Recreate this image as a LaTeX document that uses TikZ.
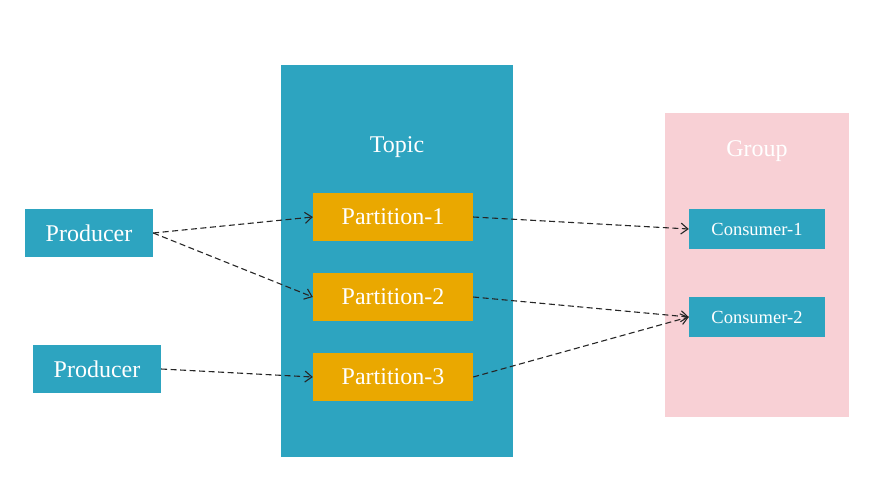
\documentclass[tikz,border=0pt]{standalone}
\usepackage{fontspec}
\setmainfont{Liberation Serif}
\usetikzlibrary{arrows.meta}
\definecolor{topicblue}{RGB}{45,164,192}
\definecolor{partorange}{RGB}{234,168,0}
\definecolor{grouppink}{RGB}{248,208,213}
\tikzset{
    box/.style={inner sep=0pt, text=white, font=\fontsize{24}{27}\selectfont},
    prodbox/.style={box, fill=topicblue, minimum width=128pt, minimum height=48pt},
    partbox/.style={box, fill=partorange, minimum width=160pt, minimum height=48pt},
    consbox/.style={box, fill=topicblue, minimum width=136pt, minimum height=40pt, font=\fontsize{18.5}{21}\selectfont},
    flow/.style={line width=1.1pt, dash pattern=on 6pt off 3.5pt, black!85, -{Straight Barb[length=7pt,width=11pt]}}
}
\begin{document}
\begin{tikzpicture}[x=1pt, y=-1pt]
            \useasboundingbox(0, 0) rectangle (886, 491);

            \fill[topicblue](281, 65) rectangle (513, 457);
            \fill[grouppink](665, 113) rectangle (849, 417);

            \node[box] at(397, 147)(topic){Topic};
            \node[box] at(757, 151)(group){Group};

            \node[prodbox] at(89, 233)(prod1){Producer};
            \node[prodbox] at(97, 369)(prod2){Producer};

            \node[partbox] at(393, 217)(part1){Partition-1};
            \node[partbox] at(393, 297)(part2){Partition-2};
            \node[partbox] at(393, 377)(part3){Partition-3};

            \node[consbox] at(757, 229)(cons1){Consumer-1};
            \node[consbox] at(757, 317)(cons2){Consumer-2};

            \draw[flow](prod1.east) -- (part1.west);
            \draw[flow](prod1.east) -- (part2.west);
            \draw[flow](prod2.east) -- (part3.west);

            \draw[flow](part1.east) -- (cons1.west);
            \draw[flow](part2.east) -- (cons2.west);
            \draw[flow](part3.east) -- (cons2.west);
\end{tikzpicture}
\end{document}
